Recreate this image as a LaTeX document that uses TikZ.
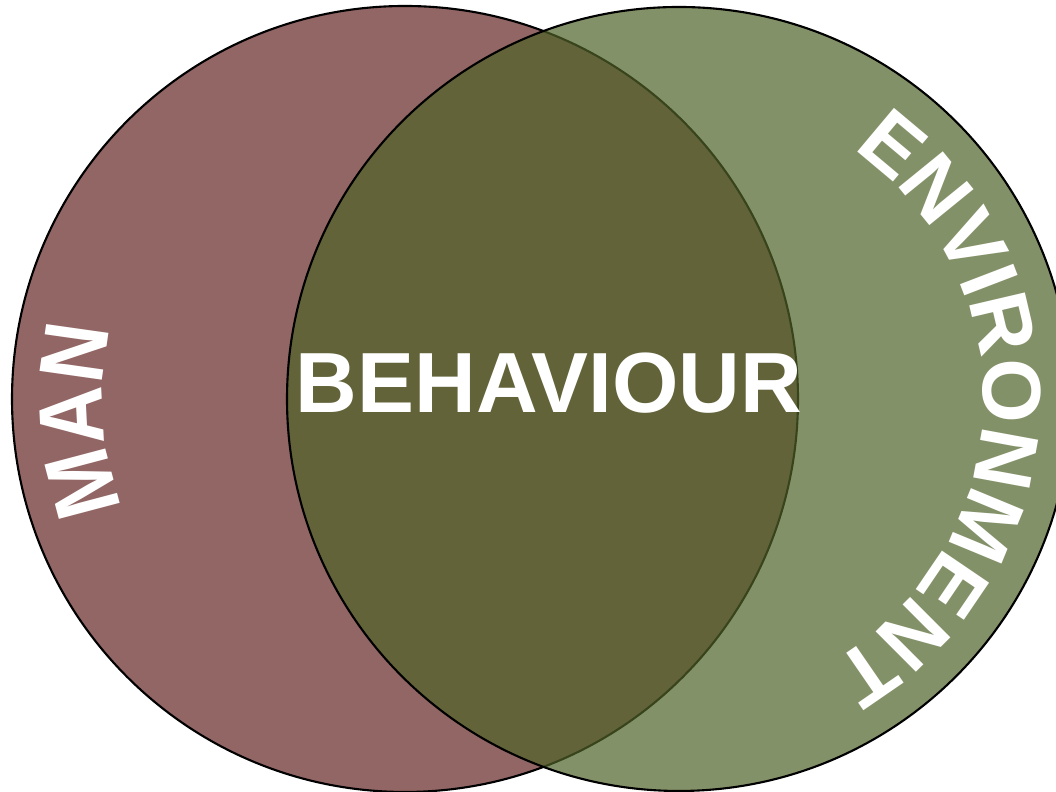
\documentclass[tikz,border=0pt]{standalone}
\usepackage{fontspec}
\setmainfont{Liberation Sans}
\newfontfamily\manfamily[FakeStretch=0.88]{Liberation Sans Bold}
\usetikzlibrary{decorations.text}
\definecolor{ManRed}{RGB}{99,37,35}
\definecolor{EnvGreen}{RGB}{79,98,40}
\newcommand{\manfont}{\manfamily\fontsize{26}{26}\selectfont}
\newcommand{\envfont}{\bfseries\fontsize{23.6}{23.6}\selectfont}
\begin{document}
\begin{tikzpicture}[>=latex]
\useasboundingbox (0,0) rectangle (10.56,7.92);
\clip (0,0) rectangle (10.56,7.92);
\node(Man)[draw, line width=.6pt, fill=ManRed, fill opacity=.7, circle, inner sep=0pt, minimum size=7.86cm] at (4.05,3.93){};
\node(Env)[draw, line width=.6pt, fill=EnvGreen, fill opacity=.7, circle, inner sep=0pt, minimum size=7.84cm] at (6.79,3.93){};

\node(Beh)[text=white, font=\bfseries\fontsize{24.3}{24.3}\selectfont] at (5.49,4.09){BEHAVIOUR};

\path[decorate, decoration={text along path, text color=white, text align=center, text={|\manfont|MAN}}]
  (Man.center) ++(240:3.02) arc[start angle=240, end angle=127.6, radius=3.02];
\path[decorate, decoration={text along path, text color=white, text align=center, text={|\envfont|ENVIRONMENT}}]
  (Env.center) ++(73:3.04) arc[start angle=73, end angle=-78, radius=3.04];
\end{tikzpicture}
\end{document}
